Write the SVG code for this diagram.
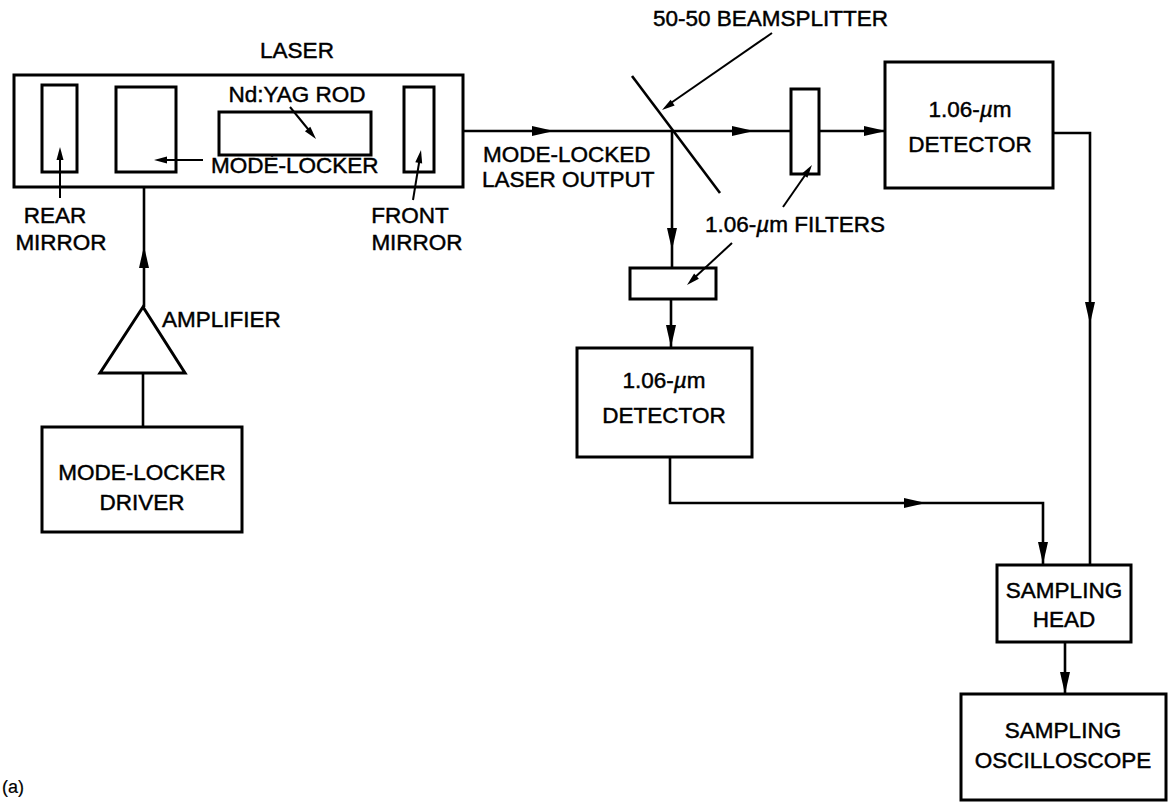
<svg xmlns="http://www.w3.org/2000/svg" xmlns:xlink="http://www.w3.org/1999/xlink" width="1170" height="809" viewBox="0 0 1170 809">
<style>
.box{fill:#fff;stroke:#000;stroke-width:3}
.ln{fill:none;stroke:#000;stroke-width:2.6}
.lb{fill:none;stroke:#000;stroke-width:2}
text{font-family:"Liberation Sans",Arial,sans-serif;font-size:22.5px;fill:#000;stroke:#000;stroke-width:0.45}
.m{text-anchor:middle}
</style>
<defs>
<path id="ah" d="M0,0 L-22,-5 L-22,5 z" fill="#000"/>
<path id="sh" d="M0,0 L-13,-3.5 L-13,3.5 z" fill="#000"/>
</defs>
<rect width="1170" height="809" fill="#fff"/>

<g id="connectors">
<path class="ln" d="M463,131 H886"/>
<path class="ln" d="M672,131 V268"/>
<path class="ln" d="M671,299 V348"/>
<path class="ln" d="M1053,133 H1090 V565"/>
<path class="ln" d="M670,457 V503 H1043 V565"/>
<path class="ln" d="M1065,642 V694"/>
<path class="ln" d="M144,172 V307"/>
<path class="ln" d="M143,373 V427"/>
<use href="#ah" transform="translate(554,131)"/>
<use href="#ah" transform="translate(754,131)"/>
<use href="#ah" transform="translate(886,131)"/>
<use href="#ah" transform="translate(672,250) rotate(90)"/>
<use href="#ah" transform="translate(671,347) rotate(90)"/>
<use href="#ah" transform="translate(1090,324) rotate(90)"/>
<use href="#ah" transform="translate(1043,564) rotate(90)"/>
<use href="#ah" transform="translate(1065,694) rotate(90)"/>
<use href="#ah" transform="translate(926,503)"/>
<use href="#ah" transform="translate(144,246) rotate(-90)"/>
</g>

<g id="laser">
<rect class="box" x="14" y="75" width="449" height="112"/>
<text class="m" x="297" y="58">LASER</text>
</g>
<g id="rear-mirror">
<rect class="box" x="42" y="85" width="35" height="87"/>
<path class="lb" d="M60,198 V152"/>
<use href="#sh" transform="translate(60,147) rotate(-90)"/>
<text class="m" x="55" y="223">REAR</text>
<text class="m" x="61" y="250">MIRROR</text>
</g>
<g id="mode-locker">
<rect class="box" x="116" y="87" width="60" height="85"/>
<path class="lb" d="M203,160 H160"/>
<use href="#sh" transform="translate(154,160) rotate(180)"/>
<text x="211" y="173">MODÈ-LOCKER</text>
</g>
<g id="ndyag-rod">
<rect class="box" x="219" y="112" width="152" height="43"/>
<text class="m" x="297" y="102">Nd:YAG ROD</text>
<path class="lb" d="M290,107 L312,134"/>
<use href="#sh" transform="translate(316,139) rotate(50)"/>
</g>
<g id="front-mirror">
<rect class="box" x="404" y="87" width="30" height="85"/>
<path class="lb" d="M413,200 L420,157"/>
<use href="#sh" transform="translate(421,150) rotate(-80)"/>
<text class="m" x="410" y="223">FRONT</text>
<text class="m" x="417" y="250">MIRROR</text>
</g>
<g id="amplifier">
<path class="box" d="M143,307 L100,373 H185 Z"/>
<text x="162" y="327">AMPLIFIER</text>
</g>
<g id="driver">
<rect class="box" x="42" y="427" width="200" height="105"/>
<text class="m" x="142" y="480">MODE-LOCKER</text>
<text class="m" x="142" y="510">DRIVER</text>
</g>
<g id="output-label">
<text x="483" y="162">MODE-LOCKED</text>
<text x="482" y="187">LASER OUTPUT</text>
</g>
<g id="beamsplitter">
<path class="ln" d="M632,76 L720,193"/>
<text x="653" y="26">50-50 BEAMSPLITTER</text>
<path class="lb" d="M772,33 L668,105"/>
<use href="#sh" transform="translate(662,110) rotate(145)"/>
</g>
<g id="filter-upper">
<rect class="box" x="791" y="89" width="28" height="85"/>
<path class="lb" d="M783,207 L808,171"/>
<use href="#sh" transform="translate(812,165) rotate(-55)"/>
</g>
<g id="filter-lower">
<rect class="box" x="630" y="268" width="86" height="31"/>
<path class="lb" d="M732,243 L692,280"/>
<use href="#sh" transform="translate(687,285) rotate(137)"/>
<text x="705" y="232">1.06-<tspan font-style="italic">µ</tspan>m FILTERS</text>
</g>
<g id="detector-upper">
<rect class="box" x="885" y="62" width="168" height="126"/>
<text class="m" x="970" y="117">1.06-<tspan font-style="italic">µ</tspan>m</text>
<text class="m" x="970" y="152">DETECTOR</text>
</g>
<g id="detector-lower">
<rect class="box" x="577" y="348" width="175" height="109"/>
<text class="m" x="664" y="388">1.06-<tspan font-style="italic">µ</tspan>m</text>
<text class="m" x="664" y="423">DETECTOR</text>
</g>
<g id="sampling-head">
<rect class="box" x="997" y="565" width="134" height="77"/>
<text class="m" x="1064" y="598">SAMPLING</text>
<text class="m" x="1064" y="627">HEAD</text>
</g>
<g id="oscilloscope">
<rect class="box" x="961" y="694" width="205" height="106"/>
<text class="m" x="1063" y="738">SAMPLING</text>
<text class="m" x="1063" y="768">OSCILLOSCOPE</text>
</g>
<text x="2" y="793" style="font-size:18px;stroke-width:0.2">(a)</text>
</svg>
